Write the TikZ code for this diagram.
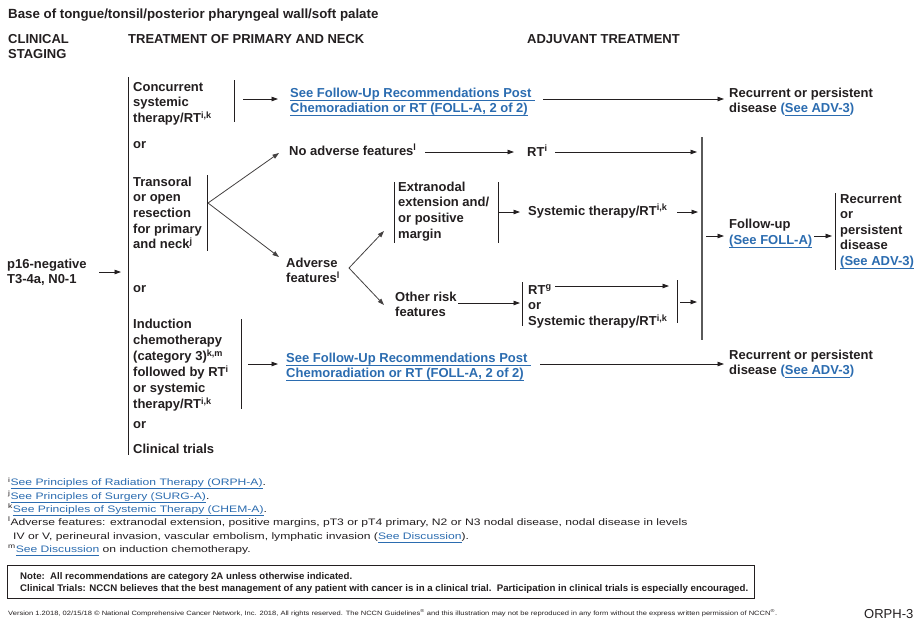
\documentclass[tikz,border=0pt]{standalone}
\usepackage{fontspec}
\setmainfont{Liberation Sans}
\newfontfamily\widefont{Liberation Sans}[FakeStretch=1.29]
\usepackage{graphicx}
\usetikzlibrary{arrows.meta}
\definecolor{lnk}{HTML}{2B6CB0}
\definecolor{ink}{HTML}{231F20}
\definecolor{vline}{HTML}{5A5A5A}
\newcommand{\myul}[1]{\setbox0\hbox{#1}\rlap{\vrule height -2.4pt depth 3.2pt width \wd0}\box0}
\newcommand{\lk}[1]{{\color{lnk}\myul{#1}}}
\newcommand{\sps}[1]{\textsuperscript{#1}}
\begin{document}
\begin{tikzpicture}[x=1pt,y=-1pt,
  txt/.style={anchor=north west, inner sep=0pt, align=left, text=ink,
    font=\fontsize{13}{15.7}\selectfont\bfseries},
  lnktxt/.style={txt, text=lnk},
  arr/.style={draw=ink, line width=0.8pt, -{Triangle[length=6.5pt,width=4.5pt]}},
  diag/.style={draw=ink!85, line width=0.8pt, -{Triangle[length=6.5pt,width=4.5pt]}},
  brk/.style={draw=ink, line width=0.9pt},
  gline/.style={draw=vline, line width=1.6pt}]
\fill[white] (0,0) rectangle (916,619);
\useasboundingbox (0,0) rectangle (916,619);

% headers
\node[txt, font=\fontsize{13.3}{15.7}\selectfont\bfseries] (title) at (8,7) {\strut Base of tongue/tonsil/posterior pharyngeal wall/soft palate};
\node[txt] (hstage) at (8,32) {\strut CLINICAL\\STAGING};
\node[txt] (htreat) at (128,32) {\strut TREATMENT OF PRIMARY AND NECK};
\node[txt] (hadj) at (527,32) {\strut ADJUVANT TREATMENT};

% left column
\node[txt] (p16) at (7,257) {\strut p16-negative\\T3-4a, N0-1};
\node[txt] (conc) at (133,80) {\strut Concurrent\\systemic\\therapy/RT\sps{i,k}};
\node[txt] (or1) at (133,137) {\strut or};
\node[txt] (trans) at (133,175) {\strut Transoral\\or open\\resection\\for primary\\and neck\sps{j}};
\node[txt] (or2) at (133,281) {\strut or};
\node[txt, font=\fontsize{13}{16.1}\selectfont\bfseries] (induc) at (133,317)
  {\strut Induction\\chemotherapy\\(category 3)\sps{k,m}\\followed by RT\sps{i}\\or systemic\\therapy/RT\sps{i,k}};
\node[txt] (or3) at (133,417) {\strut or};
\node[txt] (clin) at (133,442) {\strut Clinical trials};

% top row
\node[lnktxt] (link1) at (290,86) {\strut\myul{See Follow-Up Recommendations Post\ }\\\myul{Chemoradiation or RT (FOLL-A, 2 of 2)}};
\node[txt] (rec1) at (729,86) {\strut Recurrent or persistent\\disease {\color{lnk}(\myul{See ADV-3})}};

% surgery branch
\node[txt] (noadv) at (289,144) {\strut No adverse features\sps{l}};
\node[txt] (rt1) at (527,145) {\strut RT\sps{i}};
\node[txt] (adv) at (286,256) {\strut Adverse\\features\sps{l}};
\node[txt] (extra) at (398,180) {\strut Extranodal\\extension and/\\or positive\\margin};
\node[txt] (sys1) at (528,204) {\strut Systemic therapy/RT\sps{i,k}};
\node[txt] (other) at (395,290) {\strut Other risk\\features};
\node[txt] (rtg) at (528,283) {\strut RT\sps{g}\\or\\Systemic therapy/RT\sps{i,k}};
\node[txt, font=\fontsize{13}{16}\selectfont\bfseries] (follow) at (729,217) {\strut Follow-up\\{\color{lnk}\myul{(See FOLL-A)}}};
\node[txt, font=\fontsize{13}{15.6}\selectfont\bfseries] (rec3) at (840,192)
  {\strut Recurrent\\or\\persistent\\disease\\{\color{lnk}\myul{(See ADV-3)}}};

% bottom row
\node[lnktxt] (link2) at (286,351) {\strut\myul{See Follow-Up Recommendations Post\ }\\\myul{Chemoradiation or RT (FOLL-A, 2 of 2)}};
\node[txt] (rec2) at (729,348) {\strut Recurrent or persistent\\disease {\color{lnk}(\myul{See ADV-3})}};

% coordinates
\coordinate (mbT) at (128,77);   \coordinate (mbB) at (128,455);
\coordinate (p16s) at (99,272);  \coordinate (p16e) at (121,272);
\coordinate (cbT) at (234,80);   \coordinate (cbB) at (234,122);
\coordinate (c1s) at (243,99);   \coordinate (c1e) at (278,99);
\coordinate (l1s) at (543,99);   \coordinate (l1e) at (724,99);
\coordinate (tbT) at (207,175);  \coordinate (tbB) at (207,251);
\coordinate (fork1) at (208,203);
\coordinate (f1a) at (279,153);  \coordinate (f1b) at (279,257);
\coordinate (na1) at (425,152);  \coordinate (na2) at (514,152);
\coordinate (rt1s) at (555,152); \coordinate (rt1e) at (697,152);
\coordinate (gT) at (702,137);   \coordinate (gB) at (702,340);
\coordinate (fork2) at (349,268);
\coordinate (f2a) at (384,231);  \coordinate (f2b) at (384,305);
\coordinate (ebLT) at (394,182); \coordinate (ebLB) at (394,243);
\coordinate (ebRT) at (498,182); \coordinate (ebRB) at (498,243);
\coordinate (e1s) at (499,212);  \coordinate (e1e) at (520,212);
\coordinate (s1s) at (677,212);  \coordinate (s1e) at (698,212);
\coordinate (o1s) at (458,303);  \coordinate (o1e) at (520,303);
\coordinate (rbLT) at (522,282); \coordinate (rbLB) at (522,326);
\coordinate (g1s) at (555,286);  \coordinate (g1e) at (669,286);
\coordinate (rbRT) at (677,280); \coordinate (rbRB) at (677,323);
\coordinate (r2s) at (680,302);  \coordinate (r2e) at (697,302);
\coordinate (fu1s) at (706,236); \coordinate (fu1e) at (724,236);
\coordinate (fu2s) at (814,236); \coordinate (fu2e) at (832,236);
\coordinate (fbT) at (835,193);  \coordinate (fbB) at (835,270);
\coordinate (ibT) at (241,319);  \coordinate (ibB) at (241,409);
\coordinate (i1s) at (248,364);  \coordinate (i1e) at (278,364);
\coordinate (l2s) at (540,364);  \coordinate (l2e) at (724,364);

% connectors
\draw[brk] (mbT) -- (mbB);
\draw[arr] (p16s) -- (p16e);
\draw[brk] (cbT) -- (cbB);
\draw[arr] (c1s) -- (c1e);
\draw[arr] (l1s) -- (l1e);
\draw[brk] (tbT) -- (tbB);
\draw[diag] (fork1) -- (f1a);
\draw[diag] (fork1) -- (f1b);
\draw[arr] (na1) -- (na2);
\draw[arr] (rt1s) -- (rt1e);
\draw[gline] (gT) -- (gB);
\draw[diag] (fork2) -- (f2a);
\draw[diag] (fork2) -- (f2b);
\draw[brk] (ebLT) -- (ebLB);
\draw[brk] (ebRT) -- (ebRB);
\draw[arr] (e1s) -- (e1e);
\draw[arr] (s1s) -- (s1e);
\draw[arr] (o1s) -- (o1e);
\draw[brk] (rbLT) -- (rbLB);
\draw[arr] (g1s) -- (g1e);
\draw[brk] (rbRT) -- (rbRB);
\draw[arr] (r2s) -- (r2e);
\draw[arr] (fu1s) -- (fu1e);
\draw[arr] (fu2s) -- (fu2e);
\draw[brk] (fbT) -- (fbB);
\draw[brk] (ibT) -- (ibB);
\draw[arr] (i1s) -- (i1e);
\draw[arr] (l2s) -- (l2e);

% footnotes
\node[anchor=north west, inner sep=0pt, align=left, text=ink,
  font=\widefont\fontsize{9.4}{13.3}\selectfont] (fn) at (8,476.4)
 {\strut\sps{i}\lk{See Principles of Radiation Therapy (ORPH-A)}.\\
  \sps{j}\lk{See Principles of Surgery (SURG-A)}.\\
  \sps{k}\lk{See Principles of Systemic Therapy (CHEM-A)}.\\
  \sps{l}Adverse features: extranodal extension, positive margins, pT3 or pT4 primary, N2 or N3 nodal disease, nodal disease in levels\\
  \hspace*{5pt}IV or V, perineural invasion, vascular embolism, lymphatic invasion (\lk{See Discussion}).\\
  \sps{m}\lk{See Discussion} on induction chemotherapy.};

% note box
\node[draw=ink, line width=1.3pt, anchor=north west, inner sep=0pt,
  minimum width=747pt, minimum height=33pt] (notebox) at (7,565) {};
\node[anchor=north west, inner sep=0pt, align=left, text=ink,
  font=\fontsize{9.6}{12}\selectfont\bfseries] (notetxt) at (20,570.4)
 {\strut\resizebox{332pt}{\height}{Note:\ \ All recommendations are category 2A unless otherwise indicated.}\\
  \resizebox{728pt}{\height}{Clinical Trials: NCCN believes that the best management of any patient with cancer is in a clinical trial.\ \ Participation in clinical trials is especially encouraged.}};

% version line
\node[anchor=base west, inner sep=0pt, text=ink] (ver) at (8,615.5)
 {\resizebox{769pt}{\height}{\fontsize{6.2}{7}\selectfont Version 1.2018, 02/15/18 \textcopyright{} National Comprehensive Cancer Network, Inc. 2018, All rights reserved. The NCCN Guidelines\textsuperscript{\textregistered} and this illustration may not be reproduced in any form without the express written permission of NCCN\textsuperscript{\textregistered}.}};
\node[anchor=base west, inner sep=0pt, text=ink, font=\fontsize{13}{15}\selectfont] (orph) at (864,618) {ORPH-3};
\end{tikzpicture}
\end{document}
